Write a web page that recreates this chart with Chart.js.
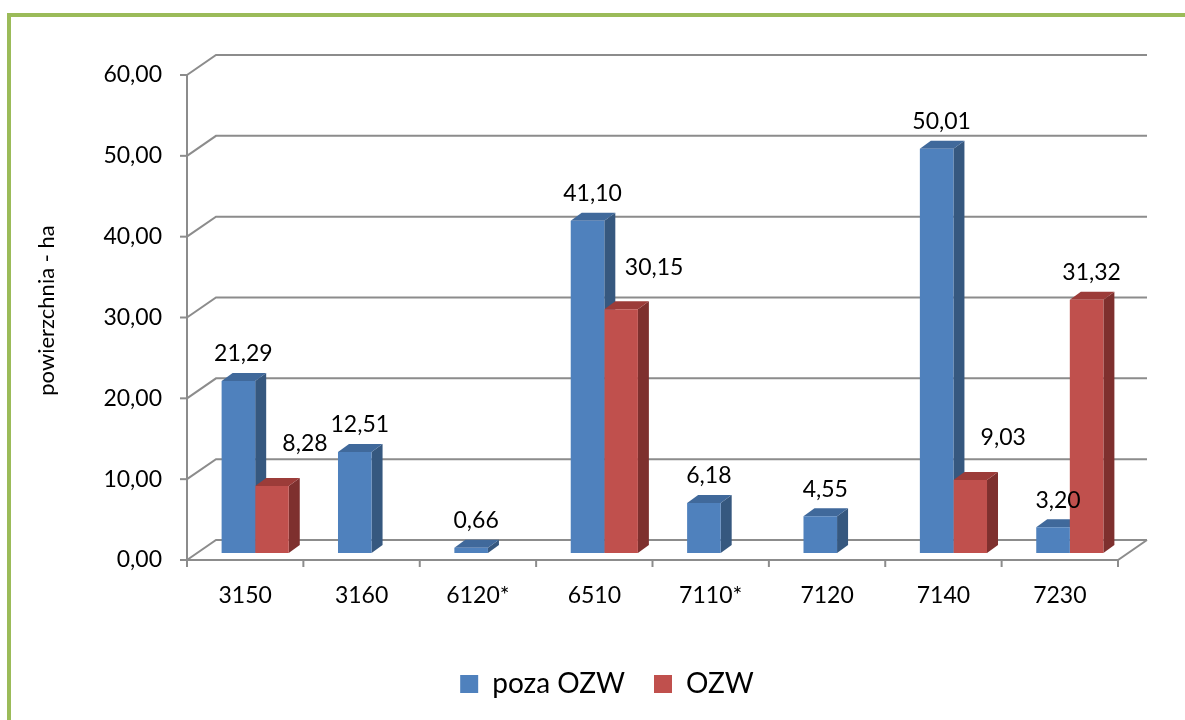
<!DOCTYPE html>
<html>
<head>
<meta charset="utf-8">
<script src="https://cdn.jsdelivr.net/npm/chart.js@4.4.0/dist/chart.umd.min.js"></script>
<style>
    html, body { margin: 0; padding: 0; background: #fff; }
    #wrap { width: 1185px; height: 720px; }
</style>
</head>
<body>
<div id="wrap"><canvas id="chart" width="1185" height="720"></canvas></div>
<script>
// Dane wykresu
const categories = ['3150', '3160', '6120*', '6510', '7110*', '7120', '7140', '7230'];
const seriesNames = ['poza OZW', 'OZW'];
const pozaOzw = [21.29, 12.51, 0.66, 41.10, 6.18, 4.55, 50.01, 3.20];
const ozw = [8.28, null, null, 30.15, null, null, 9.03, 31.32];
const yTicks = [0, 10, 20, 30, 40, 50, 60];

const frontColors = ['#4f81bd', '#c0504d'];
const sideColors = ['#36587f', '#7e302e'];
const topColors = ['#40699b', '#9c3c39'];

const fmt = v => v.toFixed(2).replace('.', ',');

// Przesunięcia pseudo-3D (ściany i słupki)
const DX = 11, DY = -8;
const FRONT = { x: -10, y: 7 };
const BACK = { x: 19, y: -13 };

Chart.defaults.font.family = 'Lato, Carlito, Calibri, sans-serif';
Chart.defaults.color = '#000';

const frame3d = {
    id: 'frame3d',
    beforeDraw(chart) {
        const ctx = chart.ctx;
        ctx.save();
        ctx.fillStyle = '#fff';
        ctx.fillRect(0, 0, chart.width, chart.height);
        ctx.strokeStyle = '#9bbb59';
        ctx.lineWidth = 4;
        ctx.strokeRect(9, 15, 1300, 800);
        ctx.restore();
    },
    beforeDatasetsDraw(chart) {
        const { ctx, chartArea: a, scales: { y } } = chart;
        const line = pts => {
            ctx.beginPath();
            ctx.moveTo(pts[0][0], pts[0][1]);
            pts.slice(1).forEach(p => ctx.lineTo(p[0], p[1]));
            ctx.stroke();
        };
        ctx.save();
        ctx.strokeStyle = '#8c8c8c';
        ctx.lineWidth = 2;

        // siatka na ścianie bocznej i tylnej
        yTicks.forEach(v => {
            const p = y.getPixelForValue(v);
            line([[a.left + FRONT.x, p + FRONT.y], [a.left + BACK.x, p + BACK.y], [a.right + BACK.x, p + BACK.y]]);
            line([[a.left + FRONT.x - 7, p + FRONT.y], [a.left + FRONT.x, p + FRONT.y]]);
        });

        // oś pionowa i podłoga
        const y0 = y.getPixelForValue(yTicks[0]);
        const yMax = y.getPixelForValue(yTicks[yTicks.length - 1]);
        line([[a.left + FRONT.x, yMax + FRONT.y], [a.left + FRONT.x, y0 + FRONT.y]]);
        line([[a.left + FRONT.x, y0 + FRONT.y], [a.right + FRONT.x, y0 + FRONT.y], [a.right + BACK.x, y0 + BACK.y]]);

        const step = a.width / categories.length;
        for (let i = 0; i <= categories.length; i++) {
            const xx = a.left + FRONT.x + i * step;
            line([[xx, y0 + FRONT.y], [xx, y0 + FRONT.y + 7]]);
        }

        // boki i wierzchy słupków
        chart.data.datasets.forEach((ds, di) => {
            const meta = chart.getDatasetMeta(di);
            meta.data.forEach((bar, i) => {
                if (ds.data[i] == null) return;
                const { x, y: top, base, width } = bar.getProps(['x', 'y', 'base', 'width'], true);
                const l = x - width / 2, r = x + width / 2;
                ctx.fillStyle = sideColors[di];
                ctx.beginPath();
                ctx.moveTo(r, top); ctx.lineTo(r + DX, top + DY);
                ctx.lineTo(r + DX, base + DY); ctx.lineTo(r, base);
                ctx.closePath(); ctx.fill();
                ctx.fillStyle = topColors[di];
                ctx.beginPath();
                ctx.moveTo(l, top); ctx.lineTo(r, top);
                ctx.lineTo(r + DX, top + DY); ctx.lineTo(l + DX, top + DY);
                ctx.closePath(); ctx.fill();
            });
        });
        ctx.restore();
    },
    afterDatasetsDraw(chart) {
        const ctx = chart.ctx;
        ctx.save();
        ctx.font = '23px Lato, Carlito, Calibri, sans-serif';
        ctx.fillStyle = '#000';
        ctx.textAlign = 'center';
        ctx.textBaseline = 'middle';
        chart.data.datasets.forEach((ds, di) => {
            const meta = chart.getDatasetMeta(di);
            meta.data.forEach((bar, i) => {
                const v = ds.data[i];
                if (v == null) return;
                let lx = bar.x + 5, ly = bar.y - 27;
                // etykieta OZW zasłonięta przez wyższy słupek obok -> w prawo
                if (di === 1 && pozaOzw[i] > v) { lx = bar.x + 33; ly = bar.y - 42; }
                ctx.fillText(fmt(v), lx, ly);
            });
        });
        ctx.restore();
    }
};

const ctx = document.getElementById('chart').getContext('2d');
const chart = new Chart(ctx, {
    type: 'bar',
    data: {
        labels: categories,
        datasets: [{
            label: seriesNames[0],
            data: pozaOzw,
            backgroundColor: frontColors[0],
            borderWidth: 0
        }, {
            label: seriesNames[1],
            data: ozw,
            backgroundColor: frontColors[1],
            borderWidth: 0
        }]
    },
    options: {
        responsive: false,
        devicePixelRatio: 1,
        animation: false,
        categoryPercentage: 0.577,
        barPercentage: 1,
        layout: { padding: { left: 86, right: 57, top: 68, bottom: 12 } },
        plugins: {
            legend: {
                position: 'bottom',
                labels: {
                    boxWidth: 18,
                    boxHeight: 18,
                    padding: 29,
                    font: { size: 28 },
                    color: '#000'
                }
            },
            tooltip: { enabled: false }
        },
        scales: {
            x: {
                grid: { display: false, drawTicks: false },
                border: { display: false },
                ticks: { font: { size: 23 }, color: '#000', labelOffset: -10, padding: 29, maxRotation: 0 },
                afterFit(s) { s.height = 88; }
            },
            y: {
                min: 0,
                max: 60,
                afterBuildTicks(s) { s.ticks = yTicks.map(v => ({ value: v })); },
                grid: { display: false, drawTicks: false },
                border: { display: false },
                ticks: { font: { size: 23 }, color: '#000', labelOffset: 7, padding: 35, callback: v => fmt(v) },
                title: {
                    display: true,
                    text: 'powierzchnia - ha',
                    font: { size: 22 },
                    color: '#000',
                    padding: { top: -52, bottom: 0 }
                },
                afterFit(s) { s.width = 111; }
            }
        }
    },
    plugins: [frame3d]
});
</script>
</body>
</html>
